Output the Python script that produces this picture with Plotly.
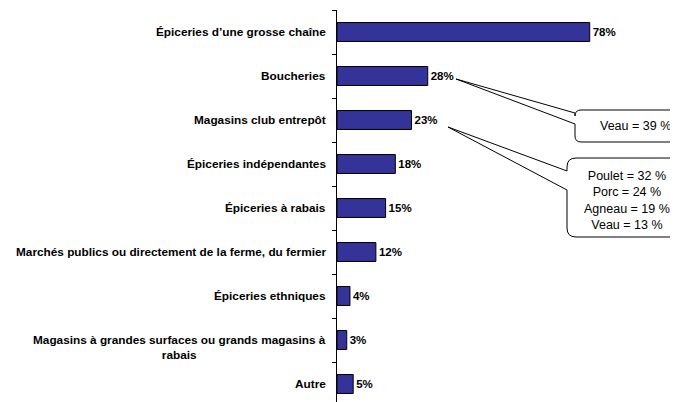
import plotly.graph_objects as go

categories = [
    "Épiceries d’une grosse chaîne",
    "Boucheries",
    "Magasins club entrepôt",
    "Épiceries indépendantes",
    "Épiceries à rabais",
    "Marchés publics ou directement de la ferme, du fermier",
    "Épiceries ethniques",
    "Magasins à grandes surfaces ou grands magasins à<br>rabais",
    "Autre",
]
values = [78, 28, 23, 18, 15, 12, 4, 3, 5]
value_labels = [f"{v}%" for v in values]

callout_boucheries = ["Veau = 39 %"]
callout_club = ["Poulet = 32 %", "Porc = 24 %", "Agneau = 19 %", "Veau = 13 %"]

# page body has an 8px margin, so the figure is drawn 8px in from the window edge
OFF = 8
W, H = 678 - OFF, 402 - OFF
# plot area in window pixels
L, R, T, B = 337, 661, 10, 402
FONT = "Liberation Sans, Arial, sans-serif"


def px(x, y):
    """Window pixel position -> paper coordinates."""
    return (x - L) / (R - L), (B - y) / (B - T)


def callout_path(x0, y0, x1, y1, r, wedge_top, wedge_bot, tip):
    pts = []

    def p(cmd, *xy):
        coords = []
        for i in range(0, len(xy), 2):
            a, b = px(xy[i], xy[i + 1])
            coords.append(f"{a:.4f},{b:.4f}")
        pts.append(cmd + " " + " ".join(coords))

    p("M", x0 + r, y0)
    p("L", x1 - r, y0)
    p("Q", x1, y0, x1, y0 + r)
    p("L", x1, y1 - r)
    p("Q", x1, y1, x1 - r, y1)
    p("L", x0 + r, y1)
    p("Q", x0, y1, x0, y1 - r)
    p("L", x0, wedge_bot)
    p("L", tip[0], tip[1])
    p("L", x0, wedge_top)
    p("L", x0, y0 + r)
    p("Q", x0, y0, x0 + r, y0)
    return " ".join(pts) + " Z"


fig = go.Figure(
    go.Bar(
        x=values,
        y=categories,
        orientation="h",
        marker=dict(color="#333399", line=dict(color="#000000", width=1)),
        text=value_labels,
        textposition="outside",
        constraintext="none",
        cliponaxis=False,
        textfont=dict(family=FONT, size=11.5, color="#000000", weight="bold"),
    )
)

# category labels drawn as annotations so the wrapped one can be centred
annotations = []
for cat in categories:
    annotations.append(
        dict(
            x=0, xref="paper", y=cat, yref="y",
            xanchor="right", xshift=-9,
            yshift=-7 if "<br>" in cat else 0,
            text=f"<b>{cat}</b>", showarrow=False, align="center",
            font=dict(family=FONT, size=11.8, color="#000000"),
        )
    )

shapes = [
    dict(type="path", xref="paper", yref="paper",
         path=callout_path(575, 110, 700, 142, 6, 113, 124, (456, 79)),
         line=dict(color="#000000", width=1), fillcolor="#ffffff"),
    dict(type="path", xref="paper", yref="paper",
         path=callout_path(567, 158, 700, 237, 9, 171, 190, (448, 127)),
         line=dict(color="#000000", width=1), fillcolor="#ffffff"),
]

for lines, (cx, cy) in [(callout_boucheries, (635, 126)), (callout_club, (627, 200))]:
    ax, ay = px(cx, cy)
    annotations.append(
        dict(x=ax, y=ay, xref="paper", yref="paper", xanchor="center", yanchor="middle",
             text="<br>".join(lines), showarrow=False, align="center",
             font=dict(family=FONT, size=12.5, color="#000000"))
    )

fig.update_layout(
    width=W, height=H,
    margin=dict(l=L - OFF, r=W - (R - OFF), t=T - OFF, b=H - (B - OFF), pad=0),
    paper_bgcolor="#ffffff", plot_bgcolor="#ffffff",
    showlegend=False,
    bargap=0.57,
    xaxis=dict(range=[0, 100], visible=False, fixedrange=True),
    yaxis=dict(
        type="category",
        range=[-0.5 + (B - T) / 44.0, -0.5],
        showline=True, linecolor="#000000", linewidth=1,
        ticks="outside", tickson="boundaries", ticklen=4, tickcolor="#000000",
        showticklabels=False, showgrid=False, zeroline=False,
    ),
    shapes=shapes,
    annotations=annotations,
)

fig.write_html("out.html")
